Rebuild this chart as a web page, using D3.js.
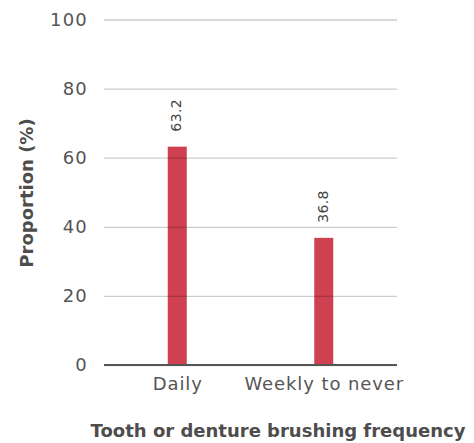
<!DOCTYPE html>
<html><head><meta charset="utf-8">
<script src="https://cdn.jsdelivr.net/npm/d3@7"></script>
<style>body{margin:0;background:#fff}svg{display:block}</style>
</head><body><svg id="c" width="474" height="443"></svg>
<script>
const categories = ["Daily", "Weekly to never"];
const values = [63.2, 36.8];
const yTicks = [0, 20, 40, 60, 80, 100];

const svg = d3.select("#c");
const font = "'DejaVu Sans', sans-serif";
const m = {l:104, r:397, t:19.5, b:365};
const x = d3.scalePoint().domain(categories).range([m.l, m.r]).padding(0.5);
const y = d3.scaleLinear().domain([0,100]).range([m.b, m.t]);

const grid = svg.append("g").attr("transform",`translate(${m.l},0)`)
  .call(d3.axisLeft(y).tickValues(yTicks).tickSize(-(m.r-m.l)).tickFormat(""));
grid.select(".domain").remove();

const bw = 19;
svg.selectAll("rect.bar").data(values).join("rect").attr("class","bar")
  .attr("x",(d,i)=>x(categories[i])-bw/2).attr("width",bw)
  .attr("y",d=>y(d)).attr("height",d=>y(0)-y(d)).attr("fill","#cf4050");

grid.raise();
grid.selectAll(".tick line").attr("stroke","rgba(0,0,0,0.2)").attr("stroke-width",1.3);

const yl = svg.append("g").attr("transform",`translate(${m.l},0)`)
  .call(d3.axisLeft(y).tickValues(yTicks).tickSize(0).tickPadding(16));
yl.select(".domain").remove();
yl.selectAll(".tick text").attr("fill","#555").attr("font-size",18).attr("font-family",font)
  .attr("letter-spacing",1.2);

svg.append("line").attr("x1",m.l).attr("x2",m.r).attr("y1",y(0)).attr("y2",y(0))
  .attr("stroke","#555").attr("stroke-width",2.2);

const xa = svg.append("g").attr("transform",`translate(0,${m.b})`)
  .call(d3.axisBottom(x).tickSize(0).tickPadding(12));
xa.select(".domain").remove();
xa.selectAll(".tick text").attr("fill","#555").attr("font-size",18).attr("font-family",font)
  .attr("letter-spacing",0.9);

svg.selectAll("text.val").data(values).join("text").attr("class","val")
  .attr("transform",(d,i)=>`translate(${x(categories[i])},${y(d)-15}) rotate(-90)`)
  .attr("text-anchor","start").attr("dominant-baseline","middle").attr("font-size",14)
  .attr("fill","#444").attr("letter-spacing",0.4)
  .attr("font-family",font).text(d=>d.toFixed(1));

svg.append("text").attr("transform","translate(33,193) rotate(-90)").attr("text-anchor","middle")
  .attr("font-size",18).attr("font-weight","bold").attr("fill","#4d4d4d")
  .attr("font-family",font).text("Proportion (%)");
svg.append("text").attr("x",278).attr("y",437).attr("text-anchor","middle")
  .attr("font-size",18).attr("font-weight","bold").attr("fill","#4d4d4d")
  .attr("font-family",font).text("Tooth or denture brushing frequency");
</script></body></html>
